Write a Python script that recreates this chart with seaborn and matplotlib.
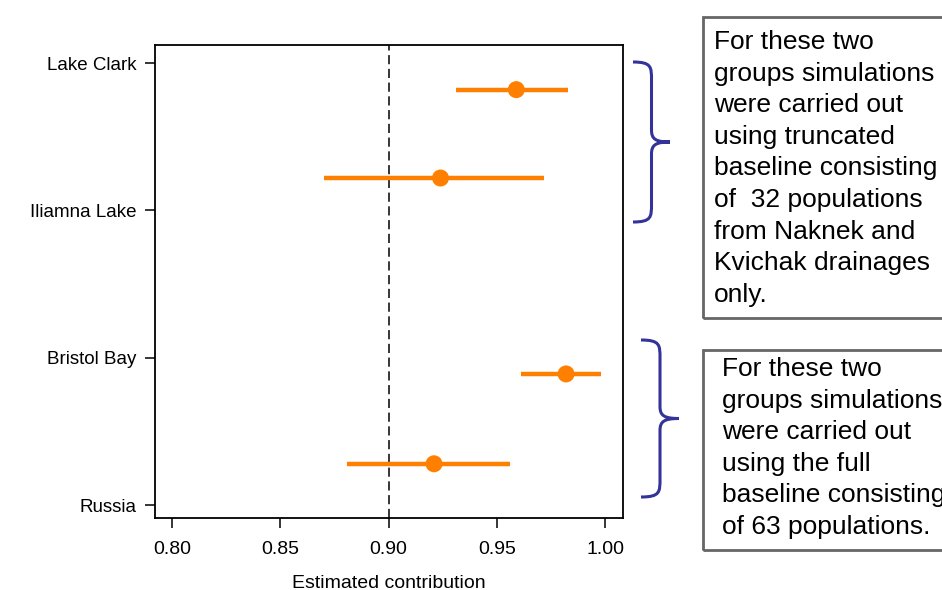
import matplotlib
matplotlib.use("Agg")
import matplotlib.pyplot as plt
import seaborn as sns
import pandas as pd
from matplotlib.path import Path
from matplotlib.patches import PathPatch, Rectangle

# data
groups = ["Lake Clark", "Iliamna Lake", "Bristol Bay", "Russia"]
tick_pos = [4, 3, 2, 1]
point_pos = [3.82, 3.22, 1.89, 1.28]
estimate = [0.959, 0.924, 0.982, 0.921]
lower = [0.931, 0.870, 0.961, 0.881]
upper = [0.983, 0.972, 0.998, 0.956]
x_ticks = [0.80, 0.85, 0.90, 0.95, 1.00]
ref_line = 0.90

note_top = ("For these two\ngroups simulations\nwere carried out\nusing truncated\n"
            "baseline consisting\nof  32 populations\nfrom Naknek and\n"
            "Kvichak drainages\nonly.")
note_bottom = ("For these two\ngroups simulations\nwere carried out\nusing the full\n"
               "baseline consisting\nof 63 populations.")

df = pd.DataFrame({"group": groups, "y": point_pos, "est": estimate,
                   "lo": lower, "hi": upper})

sns.set_style("white")
plt.rcParams["font.family"] = ["Liberation Sans", "DejaVu Sans"]
plt.rcParams["text.color"] = "black"
plt.rcParams["xtick.color"] = "black"
plt.rcParams["ytick.color"] = "black"
plt.rcParams["axes.labelcolor"] = "black"

W, H = 942, 590
fig = plt.figure(figsize=(W / 100, H / 100), dpi=100)
ax = fig.add_axes([155 / W, 1 - 518 / H, (623 - 155) / W, (518 - 45) / H])

orange = "#FF8000"
ax.hlines(df["y"], df["lo"], df["hi"], color=orange, lw=3.2, zorder=2)
sns.scatterplot(data=df, x="est", y="y", color=orange, s=150, edgecolor="none",
                zorder=3, ax=ax, legend=False)
ax.axvline(ref_line, color="black", lw=1.1, ls=(0, (6, 3)), zorder=1)

ax.set_xlim(0.7921, 1.0083)
ax.set_ylim(0.912, 4.123)
ax.set_xticks(x_ticks)
ax.set_xticklabels([f"{v:.2f}" for v in x_ticks], fontsize=14)
ax.set_yticks(tick_pos)
ax.set_yticklabels(groups, fontsize=13.5)
ax.tick_params(axis="both", direction="out", length=7.5, width=1.1, color="black",
               left=True, bottom=True)
ax.tick_params(axis="y", pad=6)
ax.tick_params(axis="x", pad=9)
ax.set_xlabel("Estimated contribution", fontsize=14, labelpad=12)
ax.set_ylabel("")
for s in ax.spines.values():
    s.set_color("black")
    s.set_linewidth(1.3)


def fx(px):
    return px / W


def fy(py):
    return 1 - py / H


def brace(x0, y0, y1, w):
    # curly brace opening left, tip pointing right, in pixel coords
    ym = (y0 + y1) / 2
    xm = x0 + w * 0.5
    verts = [
        (x0, y0),
        (xm, y0), (xm, y0 + 5), (xm, y0 + 18),
        (xm, ym - 12),
        (xm, ym - 3), (xm + 4, ym), (x0 + w, ym),
        (xm + 4, ym), (xm, ym + 3), (xm, ym + 12),
        (xm, y1 - 18),
        (xm, y1 - 5), (xm, y1), (x0, y1),
    ]
    codes = [Path.MOVETO,
             Path.CURVE4, Path.CURVE4, Path.CURVE4,
             Path.LINETO,
             Path.CURVE4, Path.CURVE4, Path.CURVE4,
             Path.CURVE4, Path.CURVE4, Path.CURVE4,
             Path.LINETO,
             Path.CURVE4, Path.CURVE4, Path.CURVE4]
    verts = [(fx(a), fy(b)) for a, b in verts]
    fig.add_artist(PathPatch(Path(verts, codes), fill=False, ec="#33339A", lw=2.2,
                             transform=fig.transFigure))


brace(633, 62, 222, 37)
brace(641, 340, 497, 38)

for (x0, y0, y1, tx, ty, text) in [(703, 17, 318, 714, 30, note_top),
                                   (703, 350, 550, 722, 357, note_bottom)]:
    fig.add_artist(Rectangle((fx(x0), fy(y1)), fx(260), (y1 - y0) / H,
                             fill=False, ec="#666666", lw=2, transform=fig.transFigure))
    fig.text(fx(tx), fy(ty), text, fontsize=19, va="top", ha="left",
             linespacing=1.40, color="black")

fig.savefig("out.png", dpi=100)
